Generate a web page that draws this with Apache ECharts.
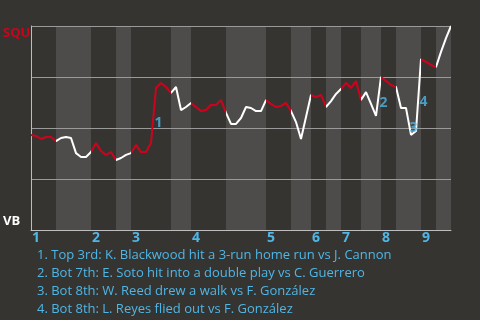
<!DOCTYPE html>
<html><head><meta charset="utf-8">
<script src="https://cdn.jsdelivr.net/npm/echarts@6/dist/echarts.min.js"></script>
<style>html,body{margin:0;padding:0;background:#363431}#c{width:480px;height:320px}</style>
</head><body><div id="c"></div>
<script>
// Win probability for SQU (0 = VB wins, 100 = SQU wins), one value per play
const winProb = [46.6,46.1,44.6,45.6,45.6,43.6,45.1,45.6,45.1,37.7,
  35.8,35.8,38.2,42.6,38.7,36.8,38.2,34.3,35.3,36.8,
  37.7,41.7,38.2,38.2,42.6,69.6,72.1,70.1,67.2,70.1,
  58.8,60.3,62.3,60.3,58.3,58.8,61.3,61.3,63.7,57.4,
  52.0,52.0,54.9,60.3,59.8,58.3,58.3,63.7,61.8,60.3,
  60.8,62.3,58.3,52.9,44.6,55.4,66.2,65.2,66.2,60.3,
  63.2,66.7,69.1,72.1,69.6,73.0,63.7,67.6,61.8,55.9,
  75.0,73.0,71.1,70.1,59.8,59.8,46.6,48.5,83.8,82.4,
  80.9,79.9,87.3,94.1,100];
// Half-inning boundaries (play index)
const topHalves = [[0,5],[12,17],[20,28],[32,39],[47,52],[56,59],[62,66],[70,73],[78,81]];
const bottomHalves = [[5,12],[17,20],[28,32],[39,47],[52,56],[59,62],[66,70],[73,78],[81,84]];
const inningStarts = [0,12,20,32,47,56,62,70,78];
const inningLabels = ['1','2','3','4','5','6','7','8','9'];
// Key events: play index ending the event and its number
const eventPlays = [25,70,76,78];
const eventLabels = ['1','2','3','4'];
const eventTexts = [
  '1. Top 3rd: K. Blackwood hit a 3-run home run vs J. Cannon',
  '2. Bot 7th: E. Soto hit into a double play vs C. Guerrero',
  '3. Bot 8th: W. Reed drew a walk vs F. González',
  '4. Bot 8th: L. Reyes flied out vs F. González'
];
const teamTop = 'SQU', teamBottom = 'VB';

const RED = '#d0021b', WHITE = '#ffffff', BLUE = '#4fb6e6', FONT = '"Open Sans", sans-serif';
const lineData = winProb.map((v,i)=>[i,v]);
const pieces = topHalves.map(r=>({gte:r[0], lt:r[1], color:RED}))
  .concat(bottomHalves.map(r=>({gte:r[0], lt:r[1], color:WHITE})));
pieces[pieces.length-1] = {gte:81, lte:84, color:WHITE};
const eventData = eventPlays.map((p,k)=>({value:[p-0.5,(winProb[p-1]+winProb[p])/2], name:eventLabels[k]}));

const chart = echarts.init(document.getElementById('c'), null, {renderer:'canvas'});
chart.setOption({
  backgroundColor:'#363431',
  animation:false,
  grid:{left:30,right:29,top:26,bottom:90},
  title:{text:eventTexts.join('\n'), left:32, top:241,
    textStyle:{color:BLUE, fontSize:13, fontWeight:'normal', lineHeight:18, fontFamily:FONT}},
  xAxis:{type:'value', min:0, max:84, z:2, splitLine:{show:false},
    axisLine:{show:true, onZero:false, lineStyle:{color:'#bdbdbd', width:1}}, axisTick:{show:false},
    axisLabel:{customValues:inningStarts, formatter:v=>inningLabels[inningStarts.indexOf(v)],
      color:BLUE, fontWeight:'bold', fontSize:14, fontFamily:FONT, align:'left', margin:1, padding:[0,0,0,1]}},
  yAxis:{type:'value', min:0, max:100, interval:25, z:2,
    axisLine:{show:true, lineStyle:{color:'#bdbdbd', width:1}}, axisTick:{show:false},
    splitLine:{lineStyle:{color:'#9a9a9a', width:1}},
    axisLabel:{customValues:[0,100], align:'left', margin:28,
      formatter:v=> v===100 ? '{s|'+teamTop+'}' : '{v|'+teamBottom+'}',
      rich:{s:{color:RED, fontWeight:'bold', fontSize:13, fontFamily:FONT, padding:[14,0,0,0]},
            v:{color:WHITE, fontWeight:'bold', fontSize:13, fontFamily:FONT, padding:[0,0,18,0]}}}},
  visualMap:{show:false, type:'piecewise', dimension:0, seriesIndex:1, pieces:pieces},
  series:[
    {type:'line', data:[], z:0, silent:true,
      markArea:{silent:true, z:0, itemStyle:{color:'#4d4c4a'},
        data:bottomHalves.map(r=>[{xAxis:r[0]},{xAxis:r[1]}])}},
    {type:'line', data:lineData, symbol:'none', lineStyle:{width:2}, z:3},
    {type:'scatter', data:eventData, symbolSize:0, z:4,
      label:{show:true, formatter:p=>p.name, color:BLUE, fontWeight:'bold', fontSize:14, fontFamily:FONT,
        position:'inside', offset:[5,7]}}
  ]
});
</script></body></html>
